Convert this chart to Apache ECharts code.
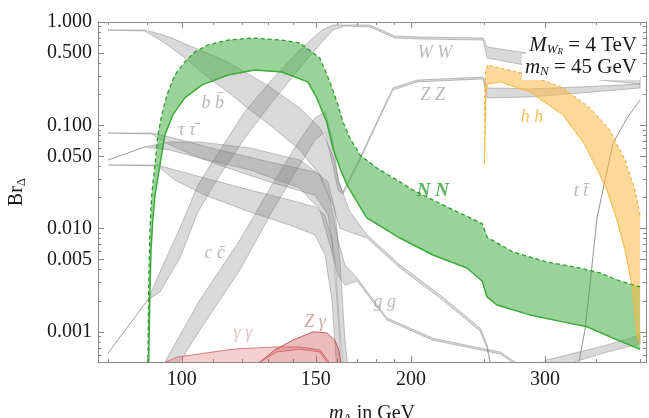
<!DOCTYPE html>
<html><head><meta charset="utf-8">
<script src="https://cdn.jsdelivr.net/npm/echarts@6/dist/echarts.min.js"></script>
<style>html,body{margin:0;padding:0;background:#fff}#c{width:649px;height:418px}</style>
</head><body><div id="c"></div>
<script>
// ---------- axis ticks ----------
const xMajor = [100, 150, 200, 300];
const xMinor = [80, 90, 110, 120, 130, 140, 160, 170, 180, 190, 250, 350, 400];
const yMajor = [0.001, 0.005, 0.01, 0.05, 0.1, 0.5, 1];
const yMinor = [0.0006,0.0007,0.0008,0.0009,0.002,0.003,0.004,0.006,0.007,0.008,0.009,
                0.02,0.03,0.04,0.06,0.07,0.08,0.09,0.2,0.3,0.4,0.6,0.7,0.8,0.9];
const massRange = [77.6, 407.2];
const brRange = [0.000511, 1];

// ---------- N N (green) ----------
const nnHiMass = [90.0, 90.5, 90.8, 91.3, 92.2, 93.0, 94.1, 95.6, 97.9, 100.9, 104.0, 108.2, 115.0, 123.6, 135.3, 142.9, 151.8, 156.5, 159.9, 162.8, 166.3, 171.4, 180.4, 193.4, 201.2, 223.0, 248, 252, 272.3, 301.6, 333.4, 354.3, 376.4, 400];
const nnHiBr   = [0.0001, 0.00318, 0.0097, 0.0211, 0.0413, 0.0805, 0.126, 0.197, 0.307, 0.410, 0.512, 0.599, 0.669, 0.700, 0.669, 0.626, 0.448, 0.263, 0.168, 0.1076, 0.0753, 0.0516, 0.0386, 0.0283, 0.0236, 0.0162, 0.0112, 0.0082, 0.00594, 0.00475, 0.00415, 0.00372, 0.00311, 0.00272];
const nnLoMass = [90.1, 90.8, 91.1, 91.6, 92.2, 93.6, 95.0, 97.3, 100.9, 106.3, 115.0, 124.7, 135.3, 146.4, 150.4, 155.0, 157.9, 161.3, 164.8, 175.0, 193.4, 213.7, 236.9, 248, 251.7, 259.4, 286.6, 316.7, 340.6, 368.5, 400];
const nnLoBr   = [0.0001, 0.00254, 0.00621, 0.0121, 0.0211, 0.0413, 0.0805, 0.126, 0.184, 0.246, 0.307, 0.343, 0.328, 0.263, 0.184, 0.1076, 0.0603, 0.0386, 0.0264, 0.0127, 0.0081, 0.00555, 0.00415, 0.00311, 0.00218, 0.00182, 0.00146, 0.00125, 0.00112, 0.00087, 0.00068];

// ---------- h h (orange) ----------
const hhHiMass = [249.8, 250.0, 250.6, 252, 262, 286.6, 316.7, 343.7, 365.1, 382.1, 393.9, 400];
const hhHiBr   = [0.042, 0.2, 0.33, 0.384, 0.358, 0.307, 0.230, 0.147, 0.0901, 0.0461, 0.0236, 0.0135];
const hhLoMass = [249.8, 250.3, 250.8, 252, 262, 286.6, 316.7, 338.5, 354.3, 361.9, 373.0, 382.1, 390.3, 396.3, 400];
const hhLoBr   = [0.042, 0.09, 0.2, 0.25, 0.263, 0.210, 0.126, 0.0645, 0.0330, 0.0236, 0.0121, 0.00621, 0.00284, 0.00093, 0.00075];

// ---------- gamma gamma, Z gamma (red) ----------
const aaMass = [88, 98.8, 115, 120, 125.9, 133.3, 142.9, 151.8, 155.5, 157.4];
const aaHi   = [0.0004, 0.000571, 0.00067, 0.00069, 0.0007, 0.000714, 0.000714, 0.00067, 0.00053, 0.00045];
const aaLo   = [0.0003, 0.0003, 0.0003, 0.0004, 0.0005, 0.000639, 0.00068, 0.00064, 0.0005, 0.00045];
const zaMass = [124.7, 127.4, 132.5, 139.9, 148.6, 155.0, 158.9, 160.8, 161.8, 162.3];
const zaHi   = [0.00045, 0.00053, 0.00067, 0.00083, 0.0010, 0.00098, 0.00083, 0.00067, 0.0005, 0.0004];
const zaLo   = [0.0003, 0.0003, 0.0003, 0.0003, 0.0003, 0.0003, 0.0003, 0.0003, 0.0003, 0.0003];

// ---------- grey channels ----------
const bbMass = [80, 89.4, 93.6, 97.0, 101.8, 107.2, 114.9, 122.9, 130.5, 142.9, 151.9, 157.9, 161.3, 166.3, 175.1, 193.5, 218.4, 246.5, 251.8, 255.6];
const bbHi   = [0.837, 0.837, 0.765, 0.700, 0.599, 0.512, 0.410, 0.307, 0.235, 0.147, 0.0942, 0.0516, 0.0264, 0.0145, 0.0087, 0.00444, 0.00228, 0.00109, 0.00075, 0.0004];
const bbLo   = [0.837, 0.818, 0.669, 0.560, 0.429, 0.307, 0.210, 0.141, 0.1007, 0.0577, 0.033, 0.0169, 0.0101, 0.00927, 0.0081, 0.00415, 0.00213, 0.00102, 0.0007, 0.0004];

const taMass = [80, 91.3, 96.4, 105.6, 114.9, 130.5, 149.6, 155.6, 158.9, 161.3, 163.8, 166.3];
const taHi   = [0.0842, 0.0842, 0.077, 0.0645, 0.0551, 0.0441, 0.0353, 0.0283, 0.0151, 0.00497, 0.00083, 0.0003];
const taLo   = [0.0842, 0.0823, 0.0645, 0.0482, 0.0386, 0.0283, 0.0211, 0.0135, 0.00497, 0.00104, 0.0003, 0.0003];

const ccMass = [80, 93.0, 97.9, 107.2, 122.9, 138.7, 149.6, 154.2, 157.5, 159.9, 162.3];
const ccHi   = [0.0413, 0.0413, 0.0369, 0.0309, 0.0236, 0.0189, 0.0162, 0.0135, 0.00776, 0.00204, 0.0004];
const ccLo   = [0.0413, 0.0404, 0.0295, 0.0211, 0.0145, 0.0108, 0.0087, 0.00555, 0.00204, 0.0004, 0.0003];

const ggMass = [80, 89.4, 96.4, 105.6, 122.9, 142.9, 151.9, 156.5, 160.4, 163.8, 169.9, 186.0, 213.8, 246.5, 261.9, 274.0, 280];
const ggHi   = [0.0461, 0.0617, 0.0689, 0.0689, 0.0603, 0.0461, 0.033, 0.0189, 0.00776, 0.00444, 0.00332, 0.00136, 0.00087, 0.000698, 0.000639, 0.00051, 0.0004];
const ggLo   = [0.0461, 0.0617, 0.0577, 0.0482, 0.0369, 0.0247, 0.0151, 0.00694, 0.00355, 0.00284, 0.00311, 0.0013, 0.00083, 0.00067, 0.000611, 0.00049, 0.0004];

const wwMass = [80, 90.2, 93.6, 99.4, 105.0, 112.2, 121.0, 130.5, 142.9, 152.8, 157.9, 163.8, 176.7, 190.5, 205.5, 248.7, 251.8, 295.5, 354.3, 400];
const wwHi   = [0.000625, 0.00204, 0.0038, 0.0101, 0.0264, 0.0577, 0.135, 0.263, 0.536, 0.837, 0.935, 0.935, 0.935, 0.732, 0.716, 0.700, 0.573, 0.479, 0.359, 0.293];
const wwLo   = [0.000625, 0.00204, 0.00243, 0.00519, 0.0145, 0.033, 0.0753, 0.157, 0.359, 0.640, 0.837, 0.915, 0.895, 0.700, 0.685, 0.669, 0.448, 0.359, 0.274, 0.251];

const zzMass = [92.2, 95.0, 105.6, 119.2, 131.3, 142.9, 149.6, 154.2, 157.9, 160.4, 162.8, 171.4, 182.1, 189.4, 203.7, 248.7, 251.8, 286.7, 333.4, 400];
const zzHi   = [0.0003, 0.00051, 0.00204, 0.00776, 0.0264, 0.0721, 0.1177, 0.135, 0.0721, 0.0295, 0.0226, 0.0482, 0.126, 0.230, 0.274, 0.293, 0.230, 0.225, 0.235, 0.251];
const zzLo   = [0.0003, 0.0003, 0.00104, 0.00397, 0.0145, 0.0413, 0.0721, 0.0861, 0.0413, 0.0236, 0.0216, 0.0461, 0.120, 0.220, 0.263, 0.281, 0.184, 0.188, 0.205, 0.230];

const brMass = [290, 300, 330, 360, 400];
const brHi   = [0.0004, 0.00053, 0.00063, 0.00074, 0.00093];
const brLo   = [0.0004, 0.0004, 0.00052, 0.00063, 0.00077];

const ttMass = [330.4, 338.5, 343.7, 351.1, 359.8, 368.6, 384.5, 400];
const ttBr   = [0.0004, 0.00104, 0.00284, 0.0127, 0.0295, 0.0674, 0.1177, 0.176];

// ---------- labels ----------
const labText  = ['b b\u0304', '\u03C4 \u03C4\u0304', 'c c\u0304', '\u03B3 \u03B3', 'Z \u03B3', 'g g', 'W W', 'Z Z', 'h h', 't t\u0304', 'N N'];
const labMass  = [109.8, 101.5, 110.5, 120.3, 149.6, 184.8, 215.0, 213.7, 288.4, 334.4, 213.7];
const labBr    = [0.164, 0.090, 0.0058, 0.00098, 0.00125, 0.00195, 0.5, 0.197, 0.120, 0.0231, 0.0231];
const labColor = ['#aaa6a6','#aaa6a6','#aaa6a6','#d8b0b0','#c49090','#aaa6a6','#aaa6a6','#aaa6a6','#f0b030','#aaa6a6','#2f9e2f'];

// ---------- build ----------
const lg = Math.log10;
const serif = '"Liberation Serif", "DejaVu Serif", serif';
const frame = '#8c8888';

function band(name, hiM, hiB, loM, loB, fill, stroke, lw, z) {
  return {
    type: 'custom', name: name, z: z, silent: true,
    coordinateSystem: 'cartesian2d', data: [[2, -1]],
    renderItem: function (params, api) {
      const pts = [];
      for (let i = 0; i < hiM.length; i++) pts.push(api.coord([lg(hiM[i]), lg(hiB[i])]));
      for (let i = loM.length - 1; i >= 0; i--) pts.push(api.coord([lg(loM[i]), lg(loB[i])]));
      const cs = params.coordSys;
      return {
        type: 'polygon', shape: { points: pts },
        style: { fill: fill, stroke: stroke, lineWidth: lw },
        clipPath: { type: 'rect', shape: { x: cs.x, y: cs.y, width: cs.width, height: cs.height } }
      };
    }
  };
}
function line(name, ms, bs, color, width, type, z) {
  return {
    type: 'line', name: name, z: z, silent: true, showSymbol: false, clip: true,
    data: ms.map((m, i) => [lg(m), lg(bs[i])]),
    lineStyle: { color: color, width: width, type: type }
  };
}

const greyFill = 'rgba(120,120,120,0.28)';
const greyEdge = 'rgba(130,120,120,0.55)';
const series = [
  band('bb', bbMass, bbHi, bbMass, bbLo, greyFill, greyEdge, 0.8, 2),
  band('tautau', taMass, taHi, taMass, taLo, greyFill, greyEdge, 0.8, 2),
  band('cc', ccMass, ccHi, ccMass, ccLo, greyFill, greyEdge, 0.8, 2),
  band('gg', ggMass, ggHi, ggMass, ggLo, greyFill, greyEdge, 0.8, 2),
  band('WW', wwMass, wwHi, wwMass, wwLo, greyFill, greyEdge, 0.8, 2),
  band('ZZ', zzMass, zzHi, zzMass, zzLo, greyFill, greyEdge, 0.8, 2),
  band('low', brMass, brHi, brMass, brLo, greyFill, greyEdge, 0.8, 2),
  line('tt', ttMass, ttBr, '#9a9292', 1, 'solid', 3),
  band('gammagamma', aaMass, aaHi, aaMass, aaLo, 'rgba(230,120,120,0.35)', '#d07070', 0.9, 4),
  band('Zgamma', zaMass, zaHi, zaMass, zaLo, 'rgba(205,80,80,0.38)', '#b85050', 0.9, 4),
  band('NN', nnHiMass, nnHiBr, nnLoMass, nnLoBr, 'rgba(70,175,70,0.55)', 'none', 0, 5),
  line('NNhi', nnHiMass, nnHiBr, '#2e9a2e', 1.3, [4, 3], 6),
  line('NNlo', nnLoMass, nnLoBr, '#3aaa3a', 1.5, 'solid', 6),
  band('hh', hhHiMass, hhHiBr, hhLoMass, hhLoBr, 'rgba(250,185,70,0.55)', 'none', 0, 5),
  line('hhhi', hhHiMass, hhHiBr, '#e8a830', 1, [3, 3], 6),
  line('hhlo', hhLoMass, hhLoBr, '#f2b840', 1, 'solid', 6),
  {
    type: 'scatter', z: 8, silent: true, symbolSize: 0,
    data: labText.map((t, i) => ({ value: [lg(labMass[i]), lg(labBr[i])], name: t,
      label: { color: labColor[i], fontWeight: t === 'N N' ? 'bold' : 'normal', fontSize: t === 'N N' ? 19 : 18 } })),
    label: { show: true, position: 'inside', formatter: p => p.name, fontFamily: serif, fontStyle: 'italic', fontSize: 18 }
  }
];

function xAx(pos, vals, len, labels) {
  return {
    type: 'value', position: pos, min: lg(massRange[0]), max: lg(massRange[1]),
    axisLine: { show: true, onZero: false, lineStyle: { color: frame, width: 1 } },
    splitLine: { show: false },
    axisTick: { show: true, inside: true, length: len, customValues: vals.map(lg), lineStyle: { color: frame } },
    axisLabel: labels ? { show: true, customValues: vals.map(lg), formatter: v => String(Math.round(Math.pow(10, v))),
      fontFamily: serif, fontSize: 20, color: '#1a1a1a', margin: 8 } : { show: false }
  };
}
function yAx(pos, vals, len, labels) {
  return {
    type: 'value', position: pos, min: lg(brRange[0]), max: lg(brRange[1]),
    axisLine: { show: true, onZero: false, lineStyle: { color: frame, width: 1 } },
    splitLine: { show: false },
    axisTick: { show: true, inside: true, length: len, customValues: vals.map(lg), lineStyle: { color: frame } },
    axisLabel: labels ? { show: true, customValues: vals.map(lg), formatter: v => Math.pow(10, v).toFixed(3),
      fontFamily: serif, fontSize: 20, color: '#1a1a1a', margin: 6 } : { show: false }
  };
}

const xAxes = [xAx('bottom', xMajor, 6, true), xAx('bottom', xMinor, 3, false), xAx('top', xMajor, 6, false), xAx('top', xMinor, 3, false)];
xAxes[0].name = '{i|m}{s|\u0394}{n| in GeV}';
xAxes[0].nameLocation = 'middle';
xAxes[0].nameGap = 40;
xAxes[0].nameTextStyle = { fontFamily: serif, fontSize: 20, color: '#1a1a1a',
  rich: { i: { fontFamily: serif, fontStyle: 'italic', fontSize: 20, color: '#1a1a1a' },
          s: { fontFamily: serif, fontSize: 13, color: '#1a1a1a', padding: [10, 0, 0, 0] },
          n: { fontFamily: serif, fontSize: 20, color: '#1a1a1a' } } };
const yAxes = [yAx('left', yMajor, 6, true), yAx('left', yMinor, 3, false), yAx('right', yMajor, 6, false), yAx('right', yMinor, 3, false)];
yAxes[0].name = '{a|Br}{s|\u0394}';
yAxes[0].nameLocation = 'middle';
yAxes[0].nameRotate = 90;
yAxes[0].nameGap = 70;
yAxes[0].nameTextStyle = { fontFamily: serif, fontSize: 20, color: '#1a1a1a',
  rich: { a: { fontFamily: serif, fontSize: 20, color: '#1a1a1a' },
          s: { fontFamily: serif, fontSize: 13, color: '#1a1a1a', padding: [10, 0, 0, 0] } } };

const chart = echarts.init(document.getElementById('c'), null, { renderer: 'canvas' });
chart.setOption({
  animation: false,
  backgroundColor: '#fff',
  grid: { left: 98, top: 22, width: 548, height: 340, containLabel: false, outerBoundsMode: 'none' },
  xAxis: xAxes,
  yAxis: yAxes,
  series: series,
  graphic: [
    { type: 'text', x: 640, y: 45, z: 100,
      style: { text: '{i|M}{s|W}{ss|R}{n| = 4 TeV}', align: 'right', verticalAlign: 'middle',
        backgroundColor: '#fff', padding: [2, 3, 2, 3],
        rich: { i: { font: 'italic 21px ' + serif, fill: '#1a1a1a' },
                s: { font: 'italic 13px ' + serif, fill: '#1a1a1a', padding: [9, 0, 0, 0] },
                ss: { font: 'italic 9px ' + serif, fill: '#1a1a1a', padding: [14, 0, 0, 0] },
                n: { font: '21px ' + serif, fill: '#1a1a1a' } } } },
    { type: 'text', x: 640, y: 67, z: 100,
      style: { text: '{i|m}{s|N}{n| = 45 GeV}', align: 'right', verticalAlign: 'middle',
        backgroundColor: '#fff', padding: [2, 3, 2, 3],
        rich: { i: { font: 'italic 21px ' + serif, fill: '#1a1a1a' },
                s: { font: 'italic 13px ' + serif, fill: '#1a1a1a', padding: [9, 0, 0, 0] },
                n: { font: '21px ' + serif, fill: '#1a1a1a' } } } }
  ]
});
</script></body></html>
